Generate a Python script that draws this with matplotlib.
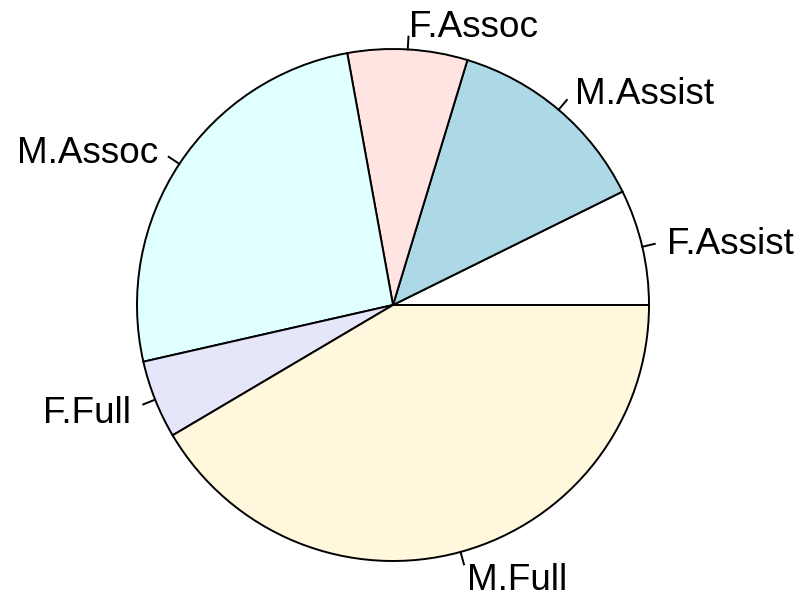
import numpy as np
import matplotlib
matplotlib.use("Agg")
import matplotlib.pyplot as plt

labels = ["F.Assist", "M.Assist", "F.Assoc", "M.Assoc", "F.Full", "M.Full"]
values = [26.3, 46.8, 27.2, 92.5, 17.8, 149.4]
colors = ["white", "#ADD8E6", "#FFE4E1", "#E0FFFF", "#E6E6FA", "#FFF8DC"]

W, H, DPI = 804, 595, 100
cx, cy, R = 393, 305, 256

fig = plt.figure(figsize=(W / DPI, H / DPI), dpi=DPI)
ax = fig.add_axes([0, 0, 1, 1])

wedges, texts = ax.pie(values, labels=labels, colors=colors, startangle=0,
                       counterclock=True, radius=1, center=(0, 0),
                       labeldistance=1.1, frame=True,
                       wedgeprops=dict(edgecolor="black", linewidth=1.4),
                       textprops=dict(fontsize=26.6, family="Liberation Sans",
                                      color="black"))
ax.set_xlim(-cx / R, (W - cx) / R)
ax.set_ylim(-(H - cy) / R, cy / R)
ax.set_aspect("auto")
ax.axis("off")

for t in texts:
    x, y = t.get_position()
    t.set_position((x, y - 4 / R))

total = sum(values)
cum = np.cumsum([0] + values)
for i in range(len(values)):
    mid = np.deg2rad((cum[i] + cum[i + 1]) / 2 / total * 360)
    ax.plot([np.cos(mid), 1.05 * np.cos(mid)], [np.sin(mid), 1.05 * np.sin(mid)],
            color="black", linewidth=1.4)

fig.savefig("out.png", dpi=DPI)
